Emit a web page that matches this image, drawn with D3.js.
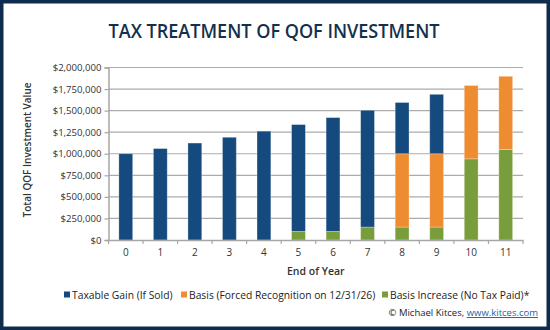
<!DOCTYPE html>
<html>
<head>
<meta charset="utf-8">
<script src="https://cdn.jsdelivr.net/npm/d3@7"></script>
<style>
  html, body { margin: 0; padding: 0; background: #fff; }
  svg { display: block; }
</style>
</head>
<body>
<svg id="chart" width="550" height="330"></svg>
<script>
// Year-end values of a $1M QOF investment, split by tax treatment
const years = ["0", "1", "2", "3", "4", "5", "6", "7", "8", "9", "10", "11"];
const basisIncrease = [0, 0, 0, 0, 0, 100000, 100000, 150000, 150000, 150000, 941000, 1048000];
const forcedBasis   = [0, 0, 0, 0, 0, 0, 0, 0, 850000, 850000, 850000, 850000];
const taxableGain   = [1000000, 1060000, 1124000, 1191000, 1262000, 1238000, 1319000, 1354000, 594000, 689000, 0, 0];
const yTicks = [0, 250000, 500000, 750000, 1000000, 1250000, 1500000, 1750000, 2000000];

const seriesKeys = ["increase", "forced", "gain"];
const seriesColor = { increase: "#7a9d3c", forced: "#ee8c31", gain: "#154a7f" };
const legendItems = [
  { key: "gain", label: "Taxable Gain (If Sold)" },
  { key: "forced", label: "Basis (Forced Recognition on 12/31/26)" },
  { key: "increase", label: "Basis Increase (No Tax Paid)*" }
];

const rows = years.map((y, i) => ({
  year: y, increase: basisIncrease[i], forced: forcedBasis[i], gain: taxableGain[i]
}));

const svg = d3.select("#chart");
const W = 550, H = 330;
const plot = { left: 108.5, right: 523, top: 67.5, bottom: 240 };
const font = "'Open Sans', 'Liberation Sans', sans-serif";

// outer navy frame
svg.append("rect").attr("x", 1.75).attr("y", 1.75).attr("width", W - 3.5).attr("height", H - 3.5)
  .attr("fill", "#fff").attr("stroke", "#0f2c4e").attr("stroke-width", 3.5);

// title
svg.append("text").attr("x", 274).attr("y", 38.3).attr("text-anchor", "middle")
  .attr("font-family", font).attr("font-weight", 600).attr("font-size", 19)
  .attr("fill", "#14304f")
  .attr("textLength", 331).attr("lengthAdjust", "spacingAndGlyphs")
  .text("TAX TREATMENT OF QOF INVESTMENT");

const x = d3.scaleBand().domain(years).range([plot.left, plot.right])
  .paddingInner(0.6).paddingOuter(0.3);
const y = d3.scaleLinear().domain([0, 2000000]).range([plot.bottom, plot.top]);

// horizontal gridlines
svg.append("g").selectAll("line").data(yTicks.filter(d => d > 0)).join("line")
  .attr("x1", plot.left).attr("x2", plot.right)
  .attr("y1", d => y(d)).attr("y2", d => y(d))
  .attr("stroke", "#ababab").attr("stroke-width", 1.2);

// stacked bars
const stack = d3.stack().keys(seriesKeys)(rows);
svg.append("g").selectAll("g").data(stack).join("g")
  .attr("fill", d => seriesColor[d.key])
  .selectAll("rect").data(d => d.filter(p => p[1] - p[0] > 0)).join("rect")
  .attr("x", d => x(d.data.year))
  .attr("width", x.bandwidth())
  .attr("y", d => y(d[1]))
  .attr("height", d => y(d[0]) - y(d[1]))
  .attr("stroke", "rgba(255,255,255,0.35)").attr("stroke-width", 0.8);

// y axis
const yAxis = d3.axisLeft(y).tickValues(yTicks).tickSize(4).tickPadding(3)
  .tickFormat(d => "$" + d3.format(",")(d));
const gy = svg.append("g").attr("transform", `translate(${plot.left},0)`).call(yAxis);
gy.select(".domain").attr("stroke", "#a6a6a6").attr("stroke-width", 1.5);
gy.selectAll(".tick line").attr("stroke", "#a6a6a6").attr("stroke-width", 1.2);
gy.selectAll(".tick text").attr("font-family", font).attr("font-size", 9.6).attr("fill", "#333");

// x axis with ticks between categories
const gx = svg.append("g").attr("transform", `translate(0,${plot.bottom})`);
const xAxis = d3.axisBottom(x).tickSize(0).tickPadding(9);
gx.call(xAxis);
gx.select(".domain").attr("stroke", "#a6a6a6").attr("stroke-width", 1.5);
gx.selectAll(".tick text").attr("font-family", font).attr("font-size", 10).attr("fill", "#333");
const boundaries = d3.range(years.length + 1).map(i => plot.left + i * (plot.right - plot.left) / years.length);
gx.selectAll(".bound").data(boundaries).join("line").attr("class", "bound")
  .attr("x1", d => d).attr("x2", d => d).attr("y1", 0).attr("y2", 4)
  .attr("stroke", "#a6a6a6").attr("stroke-width", 1.2);

// axis titles
svg.append("text").attr("x", (plot.left + plot.right) / 2).attr("y", 275)
  .attr("text-anchor", "middle").attr("font-family", font).attr("font-weight", 600)
  .attr("font-size", 10.5).attr("fill", "#333").text("End of Year");
svg.append("text").attr("transform", "translate(31,150) rotate(-90)")
  .attr("text-anchor", "middle").attr("font-family", font).attr("font-weight", 600)
  .attr("font-size", 10).attr("fill", "#333").text("Total QOF Investment Value");

// legend
const legendX = [64, 181, 382];
const lg = svg.append("g").selectAll("g").data(legendItems).join("g")
  .attr("transform", (d, i) => `translate(${legendX[i]},295)`);
lg.append("rect").attr("x", 0).attr("y", -3.5).attr("width", 6).attr("height", 6)
  .attr("fill", d => seriesColor[d.key]);
lg.append("text").attr("x", 8).attr("y", 3.5).attr("font-family", font)
  .attr("font-size", 10.3).attr("fill", "#222").text(d => d.label);

// credit line
const credit = svg.append("text").attr("x", 538).attr("y", 316).attr("text-anchor", "end")
  .attr("font-family", font).attr("font-size", 9.5).attr("fill", "#222");
credit.append("tspan").text("© Michael Kitces, ");
credit.append("tspan").attr("fill", "#1f5fa6").attr("text-decoration", "underline").text("www.kitces.com");
</script>
</body>
</html>
